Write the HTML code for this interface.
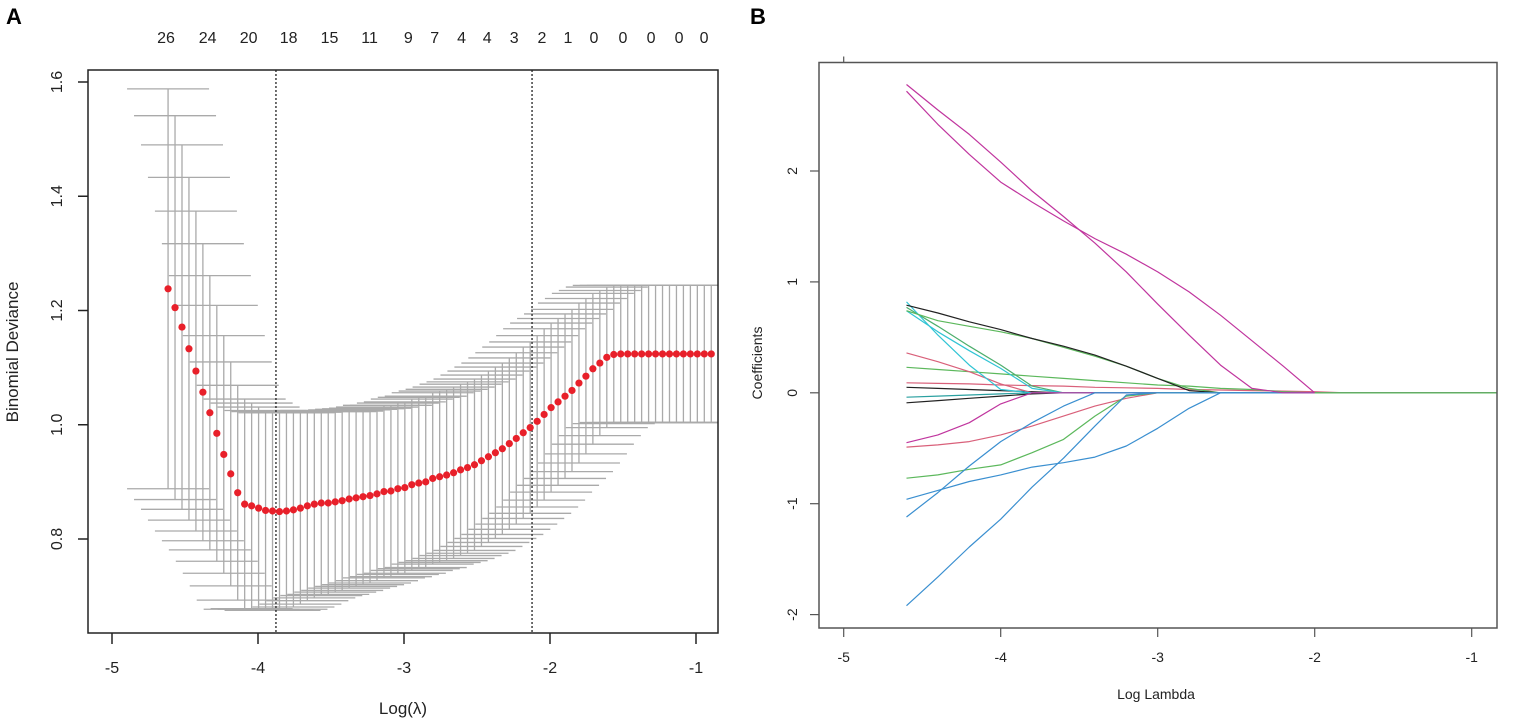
<!DOCTYPE html>
<html><head><meta charset="utf-8"><style>
html,body{margin:0;padding:0;background:#fff;}
svg{display:block;font-family:"Liberation Sans",Arial,sans-serif;}
</style></head><body>
<svg id="fig" width="1535" height="724" viewBox="0 0 1535 724" xmlns="http://www.w3.org/2000/svg">
<text x="6" y="24" font-size="22" font-weight="bold">A</text>
<text x="750" y="24" font-size="22" font-weight="bold">B</text>
<g id="pa"></g>
<g id="pb"></g>
</svg>
<script>
// ---------- Panel A data ----------
const cvLogLambdaStart = -4.616;
const cvLogLambdaStep = 0.0477;
const cvDeviance = [1.238,1.205,1.171,1.133,1.094,1.057,1.021,0.985,0.948,0.914,0.881,0.861,0.858,0.854,0.850,0.849,0.848,0.849,0.851,0.854,
0.858,0.861,0.863,0.863,0.865,0.867,0.870,0.872,0.874,0.876,0.879,0.883,0.884,0.888,0.890,0.895,0.898,0.900,0.906,0.909,
0.912,0.916,0.921,0.925,0.930,0.937,0.944,0.951,0.958,0.967,0.976,0.986,0.995,1.006,1.018,1.030,1.040,1.050,1.060,1.073,
1.085,1.098,1.108,1.118,1.123,1.124,1.124,1.124,1.124,1.124,1.124,1.124,1.124,1.124,1.124,1.124,1.124,1.124,1.124];
const cvSE = [0.350,0.336,0.319,0.300,0.280,0.260,0.240,0.224,0.208,0.196,0.188,0.184,0.180,0.177,0.175,0.174,0.173,0.172,0.170,0.168,
0.166,0.164,0.162,0.160,0.158,0.157,0.156,0.155,0.154,0.153,0.152,0.151,0.150,0.150,0.150,0.150,0.150,0.150,0.150,0.150,
0.150,0.150,0.150,0.150,0.150,0.150,0.150,0.150,0.150,0.150,0.150,0.150,0.150,0.150,0.150,0.148,0.146,0.144,0.142,0.140,
0.136,0.132,0.127,0.123,0.121,0.120,0.120,0.120,0.120,0.120,0.120,0.120,0.120,0.120,0.120,0.120,0.120,0.120,0.120];
const cvVlines = [-3.877, -2.123];
const cvTopLabels = ["26","24","20","18","15","11","9","7","4","4","3","2","1","0","0","0","0","0"];
const cvTopPos = [-4.63,-4.345,-4.064,-3.79,-3.51,-3.236,-2.97,-2.79,-2.606,-2.43,-2.245,-2.055,-1.877,-1.699,-1.5,-1.308,-1.116,-0.945];
const cvXTicks = [-5,-4,-3,-2,-1];
const cvYTicks = [0.8,1.0,1.2,1.4,1.6];

// ---------- Panel B data ----------
const pathLambda = [-4.6,-4.4,-4.2,-4.0,-3.8,-3.6,-3.4,-3.2,-3.0,-2.8,-2.6,-2.4,-2.2,-2.0,-1.8,-0.84];
const coefMagentaA = [2.78,2.55,2.33,2.08,1.82,1.59,1.35,1.09,0.80,0.52,0.25,0.04,0,0,0,0];
const coefMagentaB = [2.72,2.42,2.15,1.90,1.72,1.55,1.39,1.25,1.09,0.91,0.70,0.47,0.24,0.0,0,0];
const coefBlack1 = [0.79,0.72,0.64,0.57,0.49,0.42,0.34,0.24,0.13,0.02,0,0,0,0,0,0];
const coefGreen1 = [0.74,0.65,0.60,0.55,0.49,0.41,0.33,0.24,0.13,0.04,0,0,0,0,0,0];
const coefCyan1 = [0.82,0.52,0.25,0.03,0,0,0,0,0,0,0,0,0,0,0,0];
const coefCyan2 = [0.74,0.55,0.38,0.22,0.04,0,0,0,0,0,0,0,0,0,0,0];
const coefGreen2 = [0.77,0.60,0.42,0.25,0.06,0,0,0,0,0,0,0,0,0,0,0];
const coefPink1 = [0.36,0.28,0.19,0.08,0,0,0,0,0,0,0,0,0,0,0,0];
const coefGreen3 = [0.23,0.21,0.19,0.17,0.15,0.13,0.11,0.09,0.07,0.06,0.04,0.03,0.01,0,0,0];
const coefPink2 = [0.09,0.085,0.08,0.07,0.065,0.06,0.05,0.045,0.04,0.03,0.025,0.02,0.015,0.01,0,0];
const coefBlack2 = [0.05,0.04,0.03,0.02,0.01,0,0,0,0,0,0,0,0,0,0,0];
const coefBlack3 = [-0.09,-0.07,-0.05,-0.03,-0.01,0,0,0,0,0,0,0,0,0,0,0];
const coefTeal1 = [-0.04,-0.03,-0.02,-0.01,0,0,0,0,0,0,0,0,0,0,0,0];
const coefMagentaNeg = [-0.45,-0.38,-0.27,-0.10,0,0,0,0,0,0,0,0,0,0,0,0];
const coefPinkNeg = [-0.49,-0.47,-0.44,-0.38,-0.30,-0.21,-0.12,-0.05,0,0,0,0,0,0,0,0];
const coefGreenNeg = [-0.77,-0.74,-0.69,-0.65,-0.54,-0.42,-0.21,-0.03,0,0,0,0,0,0,0,0];
const coefBlueNeg1 = [-0.96,-0.88,-0.80,-0.74,-0.67,-0.63,-0.58,-0.48,-0.32,-0.14,0,0,0,0,0,0];
const coefBlueNeg2 = [-1.12,-0.90,-0.66,-0.44,-0.27,-0.12,0,0,0,0,0,0,0,0,0,0];
const coefBlueNeg3 = [-1.92,-1.66,-1.39,-1.14,-0.85,-0.59,-0.30,-0.02,0,0,0,0,0,0,0,0];
const pathSeries = [coefTeal1,coefBlack2,coefBlack3,coefPink2,coefGreen3,coefPink1,coefGreen2,coefCyan2,coefCyan1,coefGreen1,coefBlack1,
  coefMagentaNeg,coefPinkNeg,coefGreenNeg,coefBlueNeg1,coefBlueNeg2,coefBlueNeg3,coefMagentaA,coefMagentaB];
const pathColors = ["#2aa0a0","#222","#222","#d9607a","#5cb85c","#d9607a","#4cae6c","#30c4d4","#30c4d4","#5cb85c","#222",
  "#c0359e","#d9607a","#5cb85c","#3a8fd0","#3a8fd0","#3a8fd0","#c0359e","#c0359e"];
const pathXTicks = [-5,-4,-3,-2,-1];
const pathYTicks = [-2,-1,0,1,2];

const NS = "http://www.w3.org/2000/svg";
function mk(parent, tag, attrs, text){
  const el = document.createElementNS(NS, tag);
  for (const k in attrs) el.setAttribute(k, attrs[k]);
  if (text !== undefined) el.textContent = text;
  parent.appendChild(el);
  return el;
}

// ---------- Panel A ----------
(function(){
  const g = document.getElementById('pa');
  const L=88,R=718,T=70,B=633;
  const xA = v => 258 + (v + 4) * 146;
  const yA = v => 539 - (v - 0.8) * 571.25;
  cvDeviance.forEach((d,i)=>{
    const lx = cvLogLambdaStart + i*cvLogLambdaStep;
    const x = xA(lx), up = yA(d+cvSE[i]), lo = yA(d-cvSE[i]);
    const hw = 41;
    const bar = mk(g,'path',{d:`M${x},${up}V${lo}M${Math.max(L,x-hw)},${up}H${Math.min(R,x+hw)}M${Math.max(L,x-hw)},${lo}H${Math.min(R,x+hw)}`,stroke:'#aaaaaa','stroke-width':1.3,fill:'none'});
    
    
  });
  cvVlines.forEach(v=>{
    const ln = mk(g,'line',{x1:xA(v),x2:xA(v),y1:T,y2:B,stroke:'#222','stroke-width':1.3,'stroke-dasharray':'2,2'});
    
    
  });
  cvDeviance.forEach((d,i)=>{
    const lx = cvLogLambdaStart + i*cvLogLambdaStep;
    const c = mk(g,'circle',{cx:xA(lx),cy:yA(d),r:3.6,fill:'#e8202a'});
    
    
  });
  const box = mk(g,'rect',{x:L,y:T,width:R-L,height:B-T,fill:'none',stroke:'#222','stroke-width':1.5});
  
  
  cvXTicks.forEach(t=>{
    const x=xA(t);
    const tk = mk(g,'line',{x1:x,x2:x,y1:B,y2:B+11,stroke:'#222','stroke-width':1.5});
    
    
    const lb = mk(g,'text',{x:x,y:673,'font-size':16,'text-anchor':'middle',fill:'#222'},String(t));
    
    
  });
  cvYTicks.forEach(t=>{
    const y=yA(t);
    const tk = mk(g,'line',{x1:L-10,x2:L,y1:y,y2:y,stroke:'#222','stroke-width':1.5});
    
    
    const lb = mk(g,'text',{x:62,y:y,'font-size':16,'text-anchor':'middle',fill:'#222',transform:`rotate(-90 62 ${y})`},t.toFixed(1));
    
    
  });
  cvTopLabels.forEach((s,i)=>{
    const lb = mk(g,'text',{x:xA(cvTopPos[i]),y:43,'font-size':16,'text-anchor':'middle',fill:'#222'},s);
    
    
  });
  const xt = mk(g,'text',{x:403,y:714,'font-size':17,'text-anchor':'middle',fill:'#222'},'Log(λ)');
  
  
  const yt = mk(g,'text',{x:18,y:352,'font-size':17,'text-anchor':'middle',fill:'#222',transform:'rotate(-90 18 352)'},'Binomial Deviance');
  
  
})();

// ---------- Panel B ----------
(function(){
  const g = document.getElementById('pb');
  const L=819,R=1497,T=62.5,B=628;
  const xB = v => 1000.7 + (v + 4) * 157;
  const yB = v => 392.8 - v * 110.9;
  pathSeries.forEach((s,k)=>{
    const d = s.map((c,i)=>(i?'L':'M')+xB(pathLambda[i]).toFixed(1)+','+yB(c).toFixed(1)).join('');
    const p = mk(g,'path',{d:d,stroke:pathColors[k],'stroke-width':1.2,fill:'none','stroke-linejoin':'round'});
    
    
  });
  const zl = mk(g,'line',{x1:xB(-2.0),x2:R,y1:yB(0),y2:yB(0),stroke:'#5cb85c','stroke-width':1.3});
  
  
  const box = mk(g,'rect',{x:L,y:T,width:R-L,height:B-T,fill:'none',stroke:'#555','stroke-width':1.5});
  
  
  const tt = mk(g,'line',{x1:xB(-5),x2:xB(-5),y1:T-6,y2:T,stroke:'#555','stroke-width':1.2});
  
  
  pathXTicks.forEach(t=>{
    const x=xB(t);
    const tk = mk(g,'line',{x1:x,x2:x,y1:B,y2:B+9,stroke:'#555','stroke-width':1.2});
    
    
    const lb = mk(g,'text',{x:x,y:662,'font-size':14,'text-anchor':'middle',fill:'#222'},String(t));
    
    
  });
  pathYTicks.forEach(t=>{
    const y=yB(t);
    const tk = mk(g,'line',{x1:L-9,x2:L,y1:y,y2:y,stroke:'#555','stroke-width':1.2});
    
    
    const lb = mk(g,'text',{x:797,y:y,'font-size':14,'text-anchor':'middle',fill:'#222',transform:`rotate(-90 797 ${y})`},String(t));
    
    
  });
  const xt = mk(g,'text',{x:1156,y:699,'font-size':14,'text-anchor':'middle',fill:'#222'},'Log Lambda');
  
  
  const yt = mk(g,'text',{x:762,y:363,'font-size':14,'text-anchor':'middle',fill:'#222',transform:'rotate(-90 762 363)'},'Coefficients');
  
  
})();
</script>
</body></html>
